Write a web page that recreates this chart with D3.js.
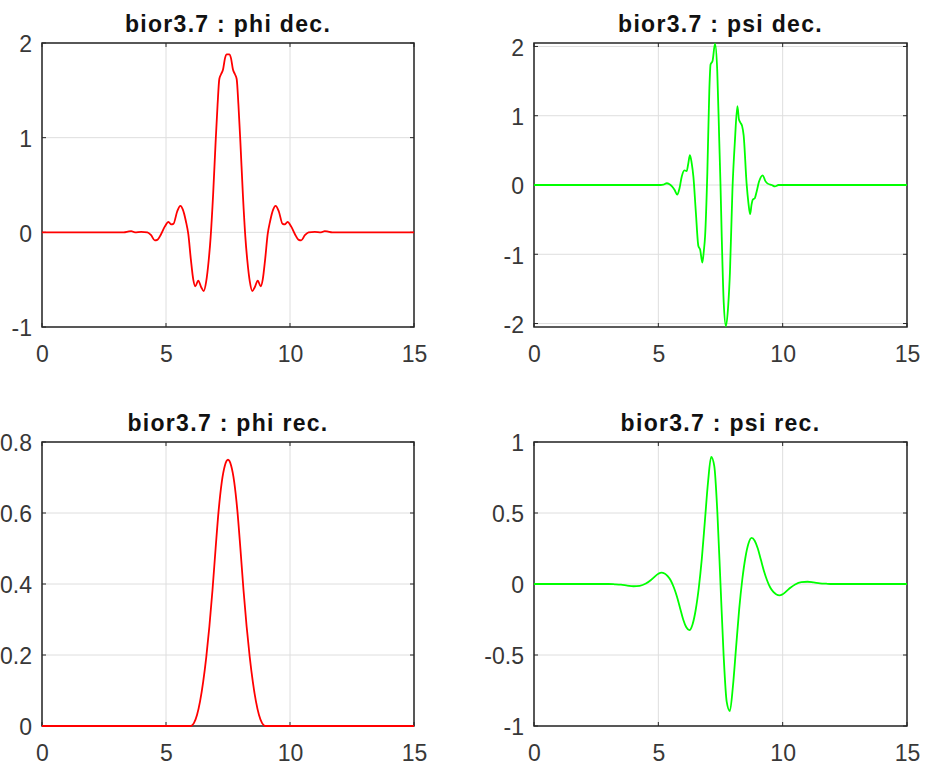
<!DOCTYPE html>
<html>
<head>
<meta charset="utf-8">
<script src="https://cdn.jsdelivr.net/npm/d3@7"></script>
<style>
  html, body { margin: 0; padding: 0; background: #fff; }
  svg { display: block; }
  text { font-family: "Liberation Sans", Arial, Helvetica, sans-serif; }
</style>
</head>
<body>
<svg id="chart" width="925" height="763"></svg>
<script>
// ---------- data ----------
const xTicks = [0, 5, 10, 15];
const xDomain = [0, 15];

const phiDecTicks = [-1, 0, 1, 2];
const phiDecDomain = [-1, 2];
const phiDecX = [0, 3, 3.3, 3.5, 3.6, 3.75, 4, 4.25, 4.4, 4.55, 4.65, 4.8, 4.95, 5.1, 5.2, 5.3, 5.45, 5.58, 5.68, 5.8,
  5.9, 6.0, 6.1, 6.18, 6.3, 6.42, 6.52, 6.62, 6.72, 6.8, 6.9, 7.0, 7.08, 7.15, 7.22, 7.3, 7.38, 7.45, 7.55, 7.62,
  7.7, 7.78, 7.85, 7.92, 8.0, 8.1, 8.2, 8.28, 8.38, 8.48, 8.58, 8.7, 8.82, 8.9, 9.0, 9.1, 9.2, 9.32, 9.42, 9.55,
  9.7, 9.8, 9.9, 10.05, 10.2, 10.35, 10.45, 10.6, 10.75, 11.0, 11.25, 11.4, 11.5, 11.7, 12, 15];
const phiDecY = [0, 0, 0, 0.01, 0.012, 0, 0.005, 0, -0.03, -0.085, -0.08, -0.02, 0.06, 0.11, 0.085, 0.09, 0.22, 0.28, 0.24, 0.12,
  -0.02, -0.28, -0.5, -0.57, -0.51, -0.58, -0.62, -0.52, -0.3, -0.05, 0.4, 0.95, 1.35, 1.62, 1.67, 1.72, 1.84, 1.88, 1.88, 1.84,
  1.72, 1.67, 1.62, 1.35, 0.95, 0.4, -0.05, -0.3, -0.52, -0.62, -0.58, -0.51, -0.57, -0.5, -0.28, -0.02, 0.12, 0.24, 0.28, 0.22,
  0.09, 0.085, 0.11, 0.06, -0.02, -0.08, -0.085, -0.03, 0, 0.005, 0, 0.012, 0.01, 0, 0, 0];

const psiDecTicks = [-2, -1, 0, 1, 2];
const psiDecDomain = [-2.05, 2.05];
const psiDecX = [0, 5.1, 5.2, 5.34, 5.45, 5.55, 5.65, 5.76, 5.85, 5.94, 6.05, 6.14, 6.2, 6.27, 6.34, 6.41, 6.51, 6.61, 6.68, 6.77,
  6.83, 6.88, 6.97, 7.05, 7.1, 7.18, 7.28, 7.37, 7.45, 7.5, 7.55, 7.63, 7.72, 7.81, 7.88, 7.98, 8.08, 8.18, 8.24, 8.3,
  8.37, 8.43, 8.55, 8.62, 8.69, 8.75, 8.8, 8.88, 8.95, 9.05, 9.2, 9.3, 9.4, 9.56, 9.69, 9.83, 15];
const psiDecY = [0, 0, 0.005, 0.025, 0.01, -0.02, -0.07, -0.14, -0.05, 0.12, 0.21, 0.2, 0.3, 0.43, 0.32, 0.12, -0.4, -0.88, -0.93, -1.12,
  -0.95, -0.74, 0.17, 1.36, 1.74, 1.79, 2.04, 1.64, 0.64, 0, -0.75, -1.7, -2.04, -1.74, -1.26, -0.07, 0.64, 1.14, 0.95, 0.9,
  0.85, 0.72, 0.02, -0.25, -0.42, -0.28, -0.21, -0.19, -0.1, 0.05, 0.14, 0.06, 0.02, 0, -0.02, 0, 0];

const phiRecTicks = [0, 0.2, 0.4, 0.6, 0.8];
const phiRecDomain = [0, 0.8];
const phiRecX = [0, 6, 6.125, 6.25, 6.375, 6.5, 6.625, 6.75, 6.875, 7, 7.125, 7.25, 7.375, 7.5,
  7.625, 7.75, 7.875, 8, 8.125, 8.25, 8.375, 8.5, 8.625, 8.75, 8.875, 9, 15];
const phiRecY = [0, 0, 0.008, 0.031, 0.07, 0.125, 0.195, 0.281, 0.383, 0.5, 0.609, 0.688, 0.734, 0.75,
  0.734, 0.688, 0.609, 0.5, 0.383, 0.281, 0.195, 0.125, 0.07, 0.031, 0.008, 0, 0];

const psiRecTicks = [-1, -0.5, 0, 0.5, 1];
const psiRecDomain = [-1, 1];
const psiRecX = [0, 3, 3.25, 3.5, 3.75, 4, 4.25, 4.5, 4.75,
  5, 5.125, 5.25, 5.375, 5.5, 5.625, 5.75, 5.875, 6, 6.125, 6.25, 6.375, 6.5, 6.625, 6.75, 6.875,
  7, 7.125, 7.25, 7.375, 7.5, 7.625, 7.75, 7.875, 8, 8.125, 8.25, 8.375, 8.5, 8.625, 8.75, 8.875,
  9, 9.125, 9.25, 9.375, 9.5, 9.625, 9.75, 9.875, 10,
  10.25, 10.5, 10.75, 11, 11.25, 11.5, 11.75, 12, 15];
const psiRecY = [0, 0, -0.002, -0.005, -0.011, -0.016, -0.013, 0.003, 0.035,
  0.072, 0.08, 0.074, 0.056, 0.025, -0.025, -0.09, -0.17, -0.25, -0.305, -0.325, -0.285, -0.185, -0.03, 0.18, 0.45,
  0.72, 0.895, 0.83, 0.5, 0, -0.5, -0.83, -0.895, -0.72, -0.45, -0.18, 0.03, 0.185, 0.285, 0.325, 0.305,
  0.25, 0.17, 0.09, 0.025, -0.025, -0.056, -0.074, -0.08, -0.072,
  -0.035, -0.003, 0.013, 0.016, 0.011, 0.005, 0.002, 0, 0];

const titles = ["bior3.7 : phi dec.", "bior3.7 : psi dec.", "bior3.7 : phi rec.", "bior3.7 : psi rec."];
const colors = ["#ff0000", "#00ff00", "#ff0000", "#00ff00"];

// ---------- layout ----------
const panels = [
  { title: titles[0], xs: phiDecX, ys: phiDecY, yDomain: phiDecDomain, yTicks: phiDecTicks, color: colors[0], left: 42, right: 414, top: 43, bottom: 327 },
  { title: titles[1], xs: psiDecX, ys: psiDecY, yDomain: psiDecDomain, yTicks: psiDecTicks, color: colors[1], left: 534, right: 907, top: 43, bottom: 327 },
  { title: titles[2], xs: phiRecX, ys: phiRecY, yDomain: phiRecDomain, yTicks: phiRecTicks, color: colors[2], left: 42, right: 414, top: 442, bottom: 726 },
  { title: titles[3], xs: psiRecX, ys: psiRecY, yDomain: psiRecDomain, yTicks: psiRecTicks, color: colors[3], left: 534, right: 907, top: 442, bottom: 726 }
];

const svg = d3.select("#chart");
svg.append("rect").attr("width", 925).attr("height", 763).attr("fill", "#fff");

const gridColor = "#dedede";
const boxColor = "#262626";
const tickLen = 4;

panels.forEach(p => {
  const x = d3.scaleLinear().domain(xDomain).range([p.left, p.right]);
  const y = d3.scaleLinear().domain(p.yDomain).range([p.bottom, p.top]);
  const g = svg.append("g");

  // grid
  g.append("g").selectAll("line.gx").data(xTicks).join("line")
    .attr("x1", d => x(d)).attr("x2", d => x(d))
    .attr("y1", p.top).attr("y2", p.bottom)
    .attr("stroke", gridColor).attr("stroke-width", 1);
  g.append("g").selectAll("line.gy").data(p.yTicks).join("line")
    .attr("x1", p.left).attr("x2", p.right)
    .attr("y1", d => y(d)).attr("y2", d => y(d))
    .attr("stroke", gridColor).attr("stroke-width", 1);

  // inward ticks on all four sides
  const tk = g.append("g").attr("stroke", boxColor).attr("stroke-width", 1);
  xTicks.forEach(d => {
    tk.append("line").attr("x1", x(d)).attr("x2", x(d)).attr("y1", p.bottom).attr("y2", p.bottom - tickLen);
    tk.append("line").attr("x1", x(d)).attr("x2", x(d)).attr("y1", p.top).attr("y2", p.top + tickLen);
  });
  p.yTicks.forEach(d => {
    tk.append("line").attr("x1", p.left).attr("x2", p.left + tickLen).attr("y1", y(d)).attr("y2", y(d));
    tk.append("line").attr("x1", p.right).attr("x2", p.right - tickLen).attr("y1", y(d)).attr("y2", y(d));
  });

  // box
  g.append("rect")
    .attr("x", p.left).attr("y", p.top)
    .attr("width", p.right - p.left).attr("height", p.bottom - p.top)
    .attr("fill", "none").attr("stroke", boxColor).attr("stroke-width", 1.5);

  // axes labels
  const ax = g.append("g").attr("transform", `translate(0,${p.bottom})`)
    .call(d3.axisBottom(x).tickValues(xTicks).tickSize(0).tickPadding(18.5).tickFormat(d => String(d)));
  const ay = g.append("g").attr("transform", `translate(${p.left},0)`)
    .call(d3.axisLeft(y).tickValues(p.yTicks).tickSize(0).tickPadding(10).tickFormat(d => String(d)));
  [ax, ay].forEach(a => {
    a.select(".domain").remove();
    a.selectAll("text").attr("font-size", 23).attr("fill", "#383838")
      .style("font-family", "'Liberation Sans', Arial, sans-serif");
  });
  ay.selectAll("text").attr("dy", "0.38em");

  // curve
  const data = d3.zip(p.xs, p.ys);
  g.append("path").datum(data)
    .attr("fill", "none").attr("stroke", p.color).attr("stroke-width", 1.8)
    .attr("stroke-linejoin", "round")
    .attr("d", d3.line().x(d => x(d[0])).y(d => y(d[1])).curve(d3.curveMonotoneX));

  // title
  g.append("text")
    .attr("x", (p.left + p.right) / 2).attr("y", p.top - 11)
    .attr("text-anchor", "middle")
    .attr("font-size", 23).attr("font-weight", "bold")
    .attr("letter-spacing", "1.3px")
    .attr("fill", "#111")
    .text(p.title);
});
</script>
</body>
</html>
